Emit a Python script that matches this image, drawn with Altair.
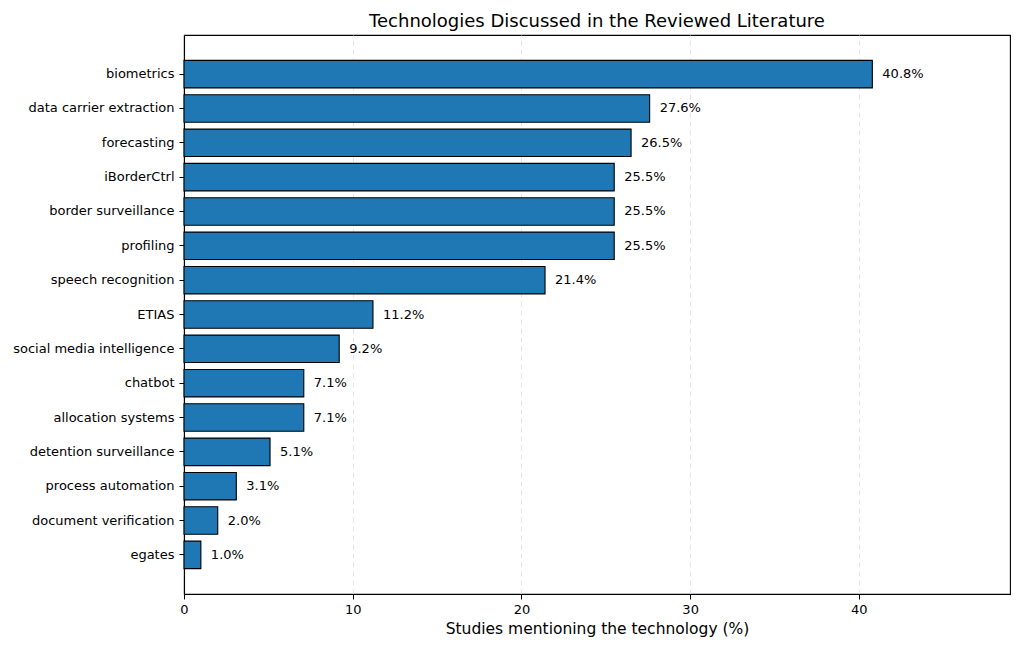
import altair as alt
import pandas as pd

technologies = [
    "biometrics", "data carrier extraction", "forecasting", "iBorderCtrl",
    "border surveillance", "profiling", "speech recognition", "ETIAS",
    "social media intelligence", "chatbot", "allocation systems",
    "detention surveillance", "process automation", "document verification", "egates",
]
percentages = [40.8, 27.6, 26.5, 25.5, 25.5, 25.5, 21.4, 11.2, 9.2, 7.1, 7.1, 5.1, 3.1, 2.0, 1.0]
x_ticks = [0, 10, 20, 30, 40]

df = pd.DataFrame({"technology": technologies, "pct": percentages})
df["label"] = [f"{v:.1f}%" for v in percentages]

FONT = "DejaVu Sans"

y_enc = alt.Y(
    "technology:N",
    sort=technologies,
    scale=alt.Scale(paddingInner=0.2, paddingOuter=0.74),
    axis=alt.Axis(title=None, labelFontSize=13, labelColor="black", labelFont=FONT,
                  tickColor="black", tickSize=5, labelPadding=5, domainColor="black",
                  domainWidth=1.1, grid=False),
)
x_scale = alt.Scale(domain=[0, max(percentages) * 1.2], nice=False, zero=True)

bars = alt.Chart(df).mark_bar(color="#1f77b4", stroke="black", strokeWidth=1.1).encode(
    x=alt.X("pct:Q", scale=x_scale,
            axis=alt.Axis(values=x_ticks, title="Studies mentioning the technology (%)",
                          titleFontSize=15.5, titleFont=FONT, titleFontWeight="normal",
                          titleColor="black", titlePadding=5,
                          labelFontSize=13, labelColor="black", labelFont=FONT,
                          labelFlush=False,
                          tickColor="black", tickSize=5, labelPadding=4,
                          domainColor="black", domainWidth=1.1,
                          grid=True, gridDash=[5, 4], gridColor="#dddddd", gridWidth=0.8)),
    y=y_enc,
)

labels = alt.Chart(df).mark_text(align="left", baseline="middle", dx=10, fontSize=13,
                                 font=FONT, color="black").encode(
    x=alt.X("pct:Q", scale=x_scale),
    y=alt.Y("technology:N", sort=technologies),
    text="label:N",
)

chart = (bars + labels).properties(
    width=826, height=559,
    background="white",
    title=alt.TitleParams("Technologies Discussed in the Reviewed Literature",
                          fontSize=18, font=FONT, fontWeight="normal", color="black",
                          anchor="middle", offset=4),
    autosize=alt.AutoSizeParams(type="none"),
    padding={"left": 176, "top": 27, "right": 6, "bottom": 50},
).configure_view(stroke="black", strokeWidth=1.1)

chart.save("out.html", embed_options={"renderer": "svg", "actions": False})
